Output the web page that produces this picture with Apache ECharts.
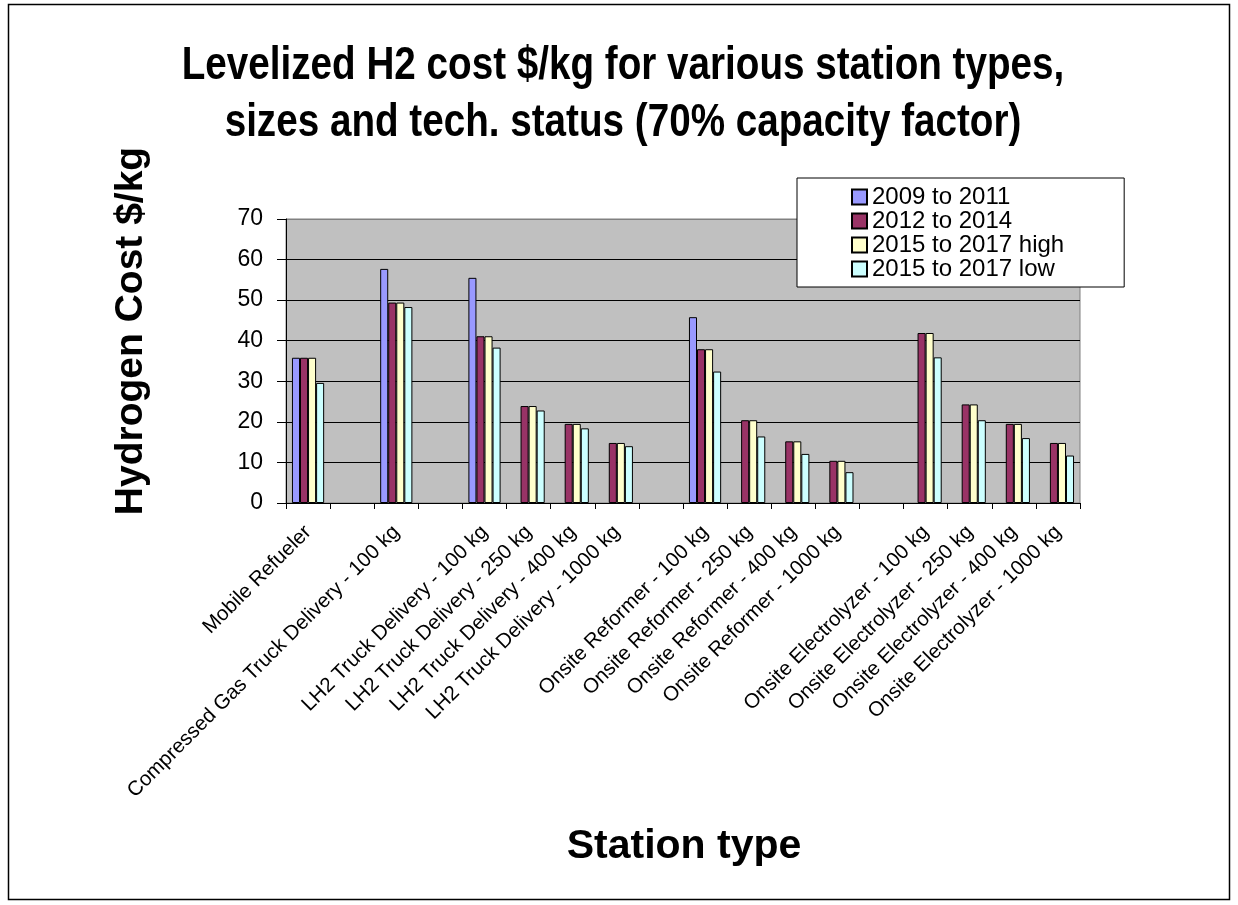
<!DOCTYPE html>
<html>
<head>
<meta charset="utf-8">
<title>Levelized H2 cost</title>
<script src="https://cdn.jsdelivr.net/npm/echarts@6/dist/echarts.min.js"></script>
<style>
  html, body { margin: 0; padding: 0; background: #fff; }
  #chart { width: 1238px; height: 905px; }
</style>
</head>
<body>
<div id="chart"></div>
<script>
// station types, blanks are the spacer columns between groups
let stations = [
  'Mobile Refueler',
  ' ',
  'Compressed Gas Truck Delivery - 100 kg',
  '  ',
  'LH2 Truck Delivery - 100 kg',
  'LH2 Truck Delivery - 250 kg',
  'LH2 Truck Delivery - 400 kg',
  'LH2 Truck Delivery - 1000 kg',
  '   ',
  'Onsite Reformer - 100 kg',
  'Onsite Reformer - 250 kg',
  'Onsite Reformer - 400 kg',
  'Onsite Reformer - 1000 kg',
  '    ',
  'Onsite Electrolyzer - 100 kg',
  'Onsite Electrolyzer - 250 kg',
  'Onsite Electrolyzer - 400 kg',
  'Onsite Electrolyzer - 1000 kg'
]
let periods = ['2009 to 2011', '2012 to 2014', '2015 to 2017 high', '2015 to 2017 low']
let cost2009 = [35.8, null, 57.7, null, 55.5, null, null, null, null, 45.8, null, null, null, null, null, null, null, null]
let cost2012 = [35.8, null, 49.4, null, 41.1, 23.9, 19.5, 14.8, null, 37.9, 20.4, 15.2, 10.4, null, 41.9, 24.3, 19.5, 14.8]
let cost2015High = [35.8, null, 49.4, null, 41.1, 23.9, 19.5, 14.8, null, 37.9, 20.4, 15.2, 10.4, null, 41.9, 24.3, 19.5, 14.8]
let cost2015Low = [29.6, null, 48.3, null, 38.3, 22.8, 18.4, 14.0, null, 32.4, 16.4, 12.1, 7.6, null, 35.9, 20.4, 16.0, 11.7]
let titleLines = [
  'Levelized H2 cost $/kg for various station types,',
  'sizes and tech. status (70% capacity factor)'
]
let colors = ['#9999FF', '#993366', '#FFFFCC', '#CCFFFF']

let font = 'Liberation Sans, Arial, sans-serif'
let chart = echarts.init(document.getElementById('chart'))

let seriesData = [cost2009, cost2012, cost2015High, cost2015Low]
let series = periods.map((name, i) => {
  return {
    name: name,
    type: 'bar',
    data: seriesData[i],
    barGap: '0%',
    barCategoryGap: '27%',
    itemStyle: {
      color: colors[i],
      borderColor: '#000',
      borderWidth: 1
    }
  }
})

// title is a narrow bold face in the original, squeeze regular bold to match
let titleText = titleLines.map((line, i) => {
  return {
    type: 'text',
    x: 623,
    y: 66 + i * 57,
    scaleX: 0.84,
    style: {
      text: line,
      font: 'bold 46px ' + font,
      fill: '#000',
      align: 'center',
      verticalAlign: 'middle'
    }
  }
})

chart.setOption({
  backgroundColor: '#fff',
  animation: false,
  legend: {
    orient: 'vertical',
    left: 797,
    top: 178,
    padding: [7, 60, 6, 54],
    itemGap: 0,
    itemWidth: 15,
    itemHeight: 15,
    icon: 'rect',
    backgroundColor: '#fff',
    borderColor: '#000',
    borderWidth: 1,
    textStyle: {
      fontFamily: font,
      fontSize: 24,
      color: '#000'
    },
    data: periods
  },
  grid: {
    left: 286,
    right: 158,
    top: 219,
    bottom: 402,
    show: true,
    backgroundColor: '#C0C0C0',
    borderColor: '#808080',
    borderWidth: 1
  },
  xAxis: {
    type: 'category',
    data: stations,
    axisLine: { lineStyle: { color: '#000', width: 1 } },
    axisTick: { show: true, length: 6, interval: 0, lineStyle: { color: '#000' } },
    axisLabel: {
      interval: 0,
      rotate: 45,
      margin: 26,
      fontFamily: font,
      fontSize: 20.5,
      color: '#000'
    },
    splitLine: { show: false }
  },
  yAxis: {
    type: 'value',
    min: 0,
    max: 70,
    interval: 10,
    axisLine: { show: true, lineStyle: { color: '#000', width: 1 } },
    axisTick: { show: true, length: 9, lineStyle: { color: '#000' } },
    axisLabel: {
      margin: 23,
      fontFamily: font,
      fontSize: 23,
      color: '#000'
    },
    splitLine: {
      show: true,
      lineStyle: {
        color: ['#000', '#000', '#000', '#000', '#000', '#000', '#000', '#808080'],
        width: 1
      }
    }
  },
  graphic: titleText.concat([
    {
      type: 'rect',
      shape: { x: 8.5, y: 4.5, width: 1221, height: 895 },
      style: { fill: null, stroke: '#000', lineWidth: 1.5 },
      silent: true
    },
    {
      type: 'text',
      x: 131,
      y: 331,
      rotation: Math.PI / 2,
      style: {
        text: 'Hydrogen Cost $/kg',
        font: 'bold 39px ' + font,
        fill: '#000',
        align: 'center',
        verticalAlign: 'middle'
      }
    },
    {
      type: 'text',
      x: 684,
      y: 847,
      style: {
        text: 'Station type',
        font: 'bold 41px ' + font,
        fill: '#000',
        align: 'center',
        verticalAlign: 'middle'
      }
    }
  ]),
  series: series
})
</script>
</body>
</html>
